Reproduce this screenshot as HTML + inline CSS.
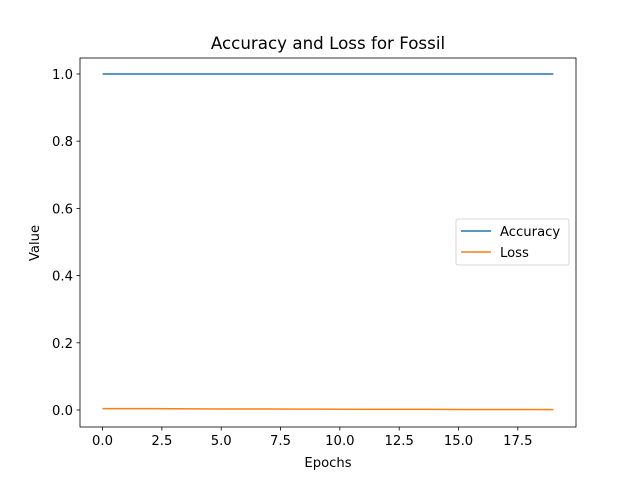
<!DOCTYPE html>
<html><head><meta charset="utf-8"><style>
body{margin:0;background:#fff;}
svg text{font-family:"DejaVu Sans","Liberation Sans",sans-serif;fill:#000;}
</style></head><body>
<svg id="chart" width="640" height="480" xmlns="http://www.w3.org/2000/svg">
<rect width="640" height="480" fill="#fff"/>
<text x="328" y="49" font-size="16.7" text-anchor="middle">Accuracy and Loss for Fossil</text>
<g id="plot"></g>
</svg>
<script>
const epochs=[0,1,2,3,4,5,6,7,8,9,10,11,12,13,14,15,16,17,18,19];
const accuracy=[1,1,1,1,1,1,1,1,1,1,1,1,1,1,1,1,1,1,1,1];
const loss=[0.004,0.0042,0.004,0.0038,0.0035,0.003,0.003,0.0028,0.0026,0.0025,0.0022,0.002,0.002,0.0018,0.0017,0.0016,0.0016,0.0015,0.0014,0.0012];
const xTicks=[0,2.5,5,7.5,10,12.5,15,17.5];
const xTickLabels=["0.0","2.5","5.0","7.5","10.0","12.5","15.0","17.5"];
const yTicks=[0,0.2,0.4,0.6,0.8,1.0];
const yTickLabels=["0.0","0.2","0.4","0.6","0.8","1.0"];
const L=80,R=576,T=58,B=427;
const x0=-0.95,x1=19.95,y0=-0.0506,y1=1.0476;
const X=v=>L+(v-x0)/(x1-x0)*(R-L);
const Y=v=>B-(v-y0)/(y1-y0)*(B-T);
const NS="http://www.w3.org/2000/svg";
const g=document.getElementById('plot');
function mk(t,a,p){const e=document.createElementNS(NS,t);for(const k in a)e.setAttribute(k,a[k]);(p||g).appendChild(e);return e;}
function line(data,color,name){
  const pts=epochs.map((e,i)=>X(e).toFixed(2)+','+Y(data[i]).toFixed(2)).join(' ');
  const el=mk('polyline',{points:pts,fill:'none',stroke:color,'stroke-width':1.5});
  
  
}
line(accuracy,'#1f77b4','accuracy-line');
line(loss,'#ff7f0e','loss-line');
const frame=mk('rect',{x:L,y:T,width:R-L,height:B-T,fill:'none',stroke:'#000','stroke-width':0.8});


xTicks.forEach((v,i)=>{
  mk('line',{x1:X(v),x2:X(v),y1:B,y2:B+3.5,stroke:'#000','stroke-width':0.8});
  const t=mk('text',{x:X(v),y:B+18,'font-size':13.2,'text-anchor':'middle'});
  t.textContent=xTickLabels[i];
  
  
});
yTicks.forEach((v,i)=>{
  mk('line',{x1:L-3.5,x2:L,y1:Y(v),y2:Y(v),stroke:'#000','stroke-width':0.8});
  const t=mk('text',{x:L-7,y:Y(v)+5,'font-size':13.2,'text-anchor':'end'});
  t.textContent=yTickLabels[i];
  
  
});
const xt=mk('text',{x:(L+R)/2,y:467,'font-size':13.2,'text-anchor':'middle'});xt.textContent='Epochs';


const yt=mk('text',{x:0,y:0,'font-size':13.2,'text-anchor':'middle',transform:'translate(39,243) rotate(-90)'});yt.textContent='Value';


const lg=mk('g',{});


mk('rect',{x:456,y:219,width:113,height:46,rx:2,fill:'#fff','fill-opacity':0.8,stroke:'#ccc','stroke-width':0.8},lg);
[['Accuracy','#1f77b4',231],['Loss','#ff7f0e',252]].forEach(([n,c,y])=>{
  const e=mk('g',{},lg);
  
  
  mk('line',{x1:461,x2:491,y1:y,y2:y,stroke:c,'stroke-width':1.5},e);
  const t=mk('text',{x:500,y:y+5,'font-size':13.2},e);t.textContent=n;
});
</script>
</body></html>
